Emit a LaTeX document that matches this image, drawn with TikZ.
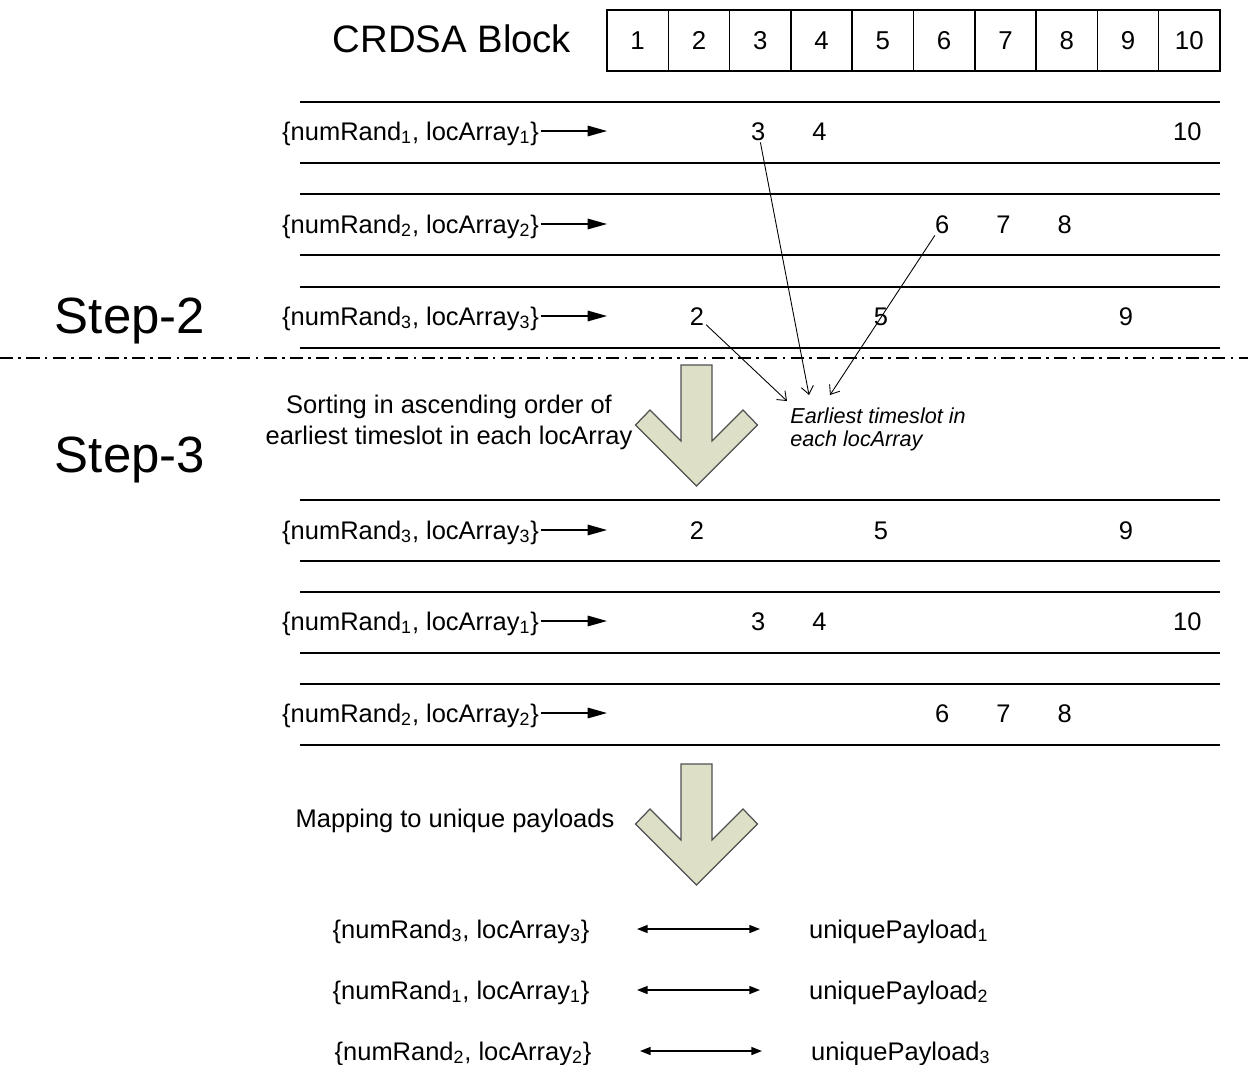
\documentclass[tikz,border=0pt]{standalone}
\usepackage{fontspec}
\setmainfont{Liberation Sans}
\usetikzlibrary{arrows.meta}
\definecolor{bigarrowfill}{RGB}{221,224,199}
\definecolor{bigarrowline}{RGB}{80,80,80}
\begin{document}
\begin{tikzpicture}[x=0.02cm,y=-0.02cm,
  txt/.style={font=\fontsize{14.5}{17.6}\selectfont, inner sep=1pt},
  bigtxt/.style={font=\fontsize{29}{34}\selectfont, inner sep=0pt},
  titletxt/.style={font=\fontsize{21.8}{26}\selectfont, inner sep=0pt},
  notetxt/.style={font=\fontsize{12.3}{14.8}\selectfont\itshape, inner sep=0pt, align=left},
  cell/.style={draw, line width=0.8pt, minimum width=1.226cm, minimum height=1.22cm, outer sep=0pt, inner sep=0pt, font=\fontsize{14.7}{17.6}\selectfont},
  rowline/.style={line width=0.8pt},
  rowarrow/.style={line width=0.8pt, -{Triangle[length=11pt,width=6pt]}},
  notearrow/.style={line width=0.5pt, -{Straight Barb[length=4.5pt,width=7pt]}},
  dblarrow/.style={line width=0.8pt, {Triangle[length=6pt,width=4.5pt]}-{Triangle[length=6pt,width=4.5pt]}},
  bigarrow/.style={fill=bigarrowfill, draw=bigarrowline, line width=0.7pt, line join=miter},
  divider/.style={line width=0.6pt, dash pattern=on 7.5pt off 3pt on 1.5pt off 3pt}
]
\useasboundingbox (0,0) rectangle (1248,1065);

% Title and block
\node[titletxt, anchor=base] (title) at (452,52) {CRDSA Block};
\foreach \i in {1,...,10} {
  \node[cell] (c\i) at ({607+61.3*(\i-0.5)},40.5) {\i};
}

% Row lines
\foreach \y in {102,163,194,255,287,348,500,561,592,653,684,745} {
  \draw[rowline] (300,\y) -- (1220,\y);
}

% Row labels
\node[txt, anchor=base east] (l1) at (541,140) {\{numRand\textsubscript{1}, locArray\textsubscript{1}\}};
\node[txt, anchor=base east] (l2) at (541,233) {\{numRand\textsubscript{2}, locArray\textsubscript{2}\}};
\node[txt, anchor=base east] (l3) at (541,325) {\{numRand\textsubscript{3}, locArray\textsubscript{3}\}};
\node[txt, anchor=base east] (l4) at (541,539) {\{numRand\textsubscript{3}, locArray\textsubscript{3}\}};
\node[txt, anchor=base east] (l5) at (541,630) {\{numRand\textsubscript{1}, locArray\textsubscript{1}\}};
\node[txt, anchor=base east] (l6) at (541,722) {\{numRand\textsubscript{2}, locArray\textsubscript{2}\}};

\coordinate (a1) at (607,131);
\coordinate (a2) at (607,224);
\coordinate (a3) at (607,316);
\coordinate (a4) at (607,530);
\coordinate (a5) at (607,621);
\coordinate (a6) at (607,713);
\foreach \k in {1,...,6} {
  \draw[rowarrow] (l\k.east |- a\k) -- (a\k);
}

% Slot numbers in rows
\foreach \r/\yb/\nums in {1/140/{3,4,10}, 2/233/{6,7,8}, 3/325/{2,5,9}, 4/539/{2,5,9}, 5/630/{3,4,10}, 6/722/{6,7,8}} {
  \foreach \n in \nums {
    \node[txt, anchor=base] (r\r n\n) at ({605+61.3*(\n-0.5)},\yb) {\n};
  }
}

% Step labels and divider
\node[bigtxt, anchor=base] (step2) at (130,333) {Step-2};
\node[bigtxt, anchor=base] (step3) at (130,472) {Step-3};
\draw[divider] (0,358) -- (1248,358);

% Note and its arrows (base anchor = last line)
\node[notetxt, anchor=base west] (note) at (790,446) {Earliest timeslot in\\[-2pt]each locArray};
\coordinate (tipA) at (809,395);
\coordinate (tipB) at (830,395);
\coordinate (tipC) at (787,401);
\draw[notearrow] (r1n3) -- (tipA);
\draw[notearrow] (r2n6) -- (tipB);
\draw[notearrow] (r3n2) -- (tipC);

% Sorting text and big arrows
\node[txt, anchor=base, align=center] (sort) at (449,444) {Sorting in ascending order of\\earliest timeslot in each locArray};
\foreach \y in {365,764} {
  \draw[bigarrow] (681,\y) -- (712,\y) -- (712,\y+76) -- (743,\y+45) -- (757.5,\y+60)
    -- (696.5,\y+121) -- (635.5,\y+60) -- (650,\y+45) -- (681,\y+76) -- cycle;
}

% Mapping
\node[txt, anchor=base] (map) at (455,827) {Mapping to unique payloads};

\node[txt, anchor=base] (m1) at (461,938) {\{numRand\textsubscript{3}, locArray\textsubscript{3}\}};
\node[txt, anchor=base] (m2) at (461,999) {\{numRand\textsubscript{1}, locArray\textsubscript{1}\}};
\node[txt, anchor=base] (m3) at (463,1060) {\{numRand\textsubscript{2}, locArray\textsubscript{2}\}};
\node[txt, anchor=base west] (u1) at (807,938) {uniquePayload\textsubscript{1}};
\node[txt, anchor=base west] (u2) at (807,999) {uniquePayload\textsubscript{2}};
\node[txt, anchor=base west] (u3) at (809,1060) {uniquePayload\textsubscript{3}};
\coordinate (bl1) at (637,929); \coordinate (br1) at (760,929);
\coordinate (bl2) at (637,990); \coordinate (br2) at (760,990);
\coordinate (bl3) at (640,1051); \coordinate (br3) at (762,1051);
\draw[dblarrow] (bl1) -- (br1);
\draw[dblarrow] (bl2) -- (br2);
\draw[dblarrow] (bl3) -- (br3);
\end{tikzpicture}
\end{document}
